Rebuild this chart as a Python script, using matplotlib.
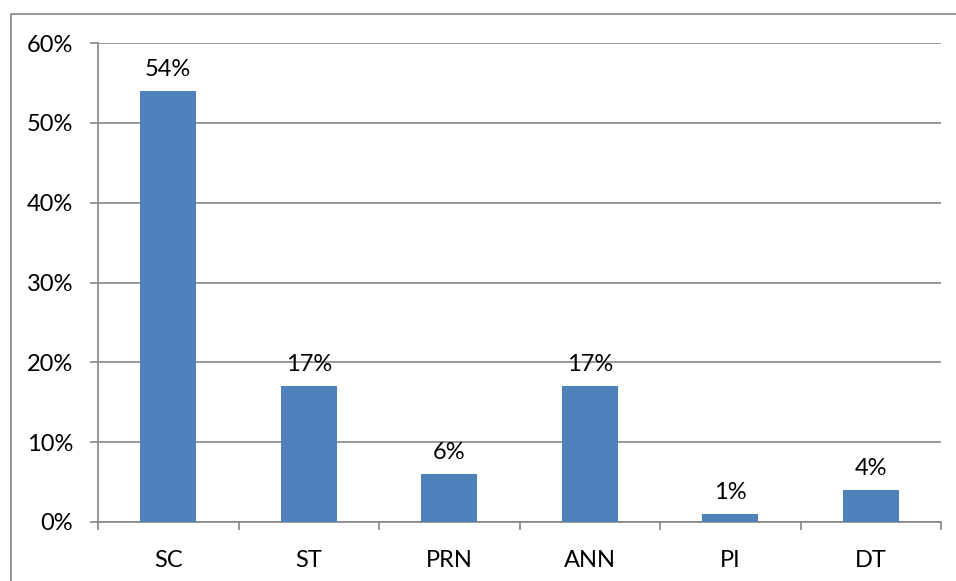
import numpy as np
import matplotlib.pyplot as plt
from matplotlib.patches import Rectangle
from matplotlib.ticker import FixedLocator, FuncFormatter

categories = ["SC", "ST", "PRN", "ANN", "PI", "DT"]
values = [54, 17, 6, 17, 1, 4]
yticks = [0, 10, 20, 30, 40, 50, 60]

plt.rcParams["font.family"] = ["Lato", "DejaVu Sans"]
grey = "#868686"
bar_color = "#4F81BD"

fig = plt.figure(figsize=(9.56, 5.81), dpi=100)
ax = fig.add_axes([98 / 956, 1 - 522 / 581, (941 - 98) / 956, (522 - 43) / 581])

# outer chart frame (right and bottom edges fall outside the image)
fig.patches.append(Rectangle((10.5 / 956, -0.05), 1.2, 1 - 13.5 / 581 + 0.05,
                             transform=fig.transFigure, fill=False,
                             edgecolor=grey, linewidth=1.2))

x = np.arange(len(categories))
ax.bar(x, values, width=0.4, color=bar_color, zorder=3)

for xi, v in zip(x, values):
    ax.annotate(f"{v}%", (xi, v), xytext=(0, 8), textcoords="offset points",
                ha="center", va="bottom", fontsize=17)

ax.set_xlim(-0.5, len(categories) - 0.5)
ax.set_ylim(0, 60)
ax.set_yticks(yticks)
ax.yaxis.set_major_formatter(FuncFormatter(lambda v, p: f"{int(v)}%"))
ax.set_xticks(x)
ax.set_xticklabels(categories)
ax.xaxis.set_minor_locator(FixedLocator(np.arange(len(categories) + 1) - 0.5))

ax.tick_params(axis="x", which="major", length=0, pad=20, labelsize=17)
ax.tick_params(axis="x", which="minor", length=6, color=grey, width=1.2)
ax.tick_params(axis="y", length=6, color=grey, width=1.2, pad=12, labelsize=17)

ax.grid(axis="y", color=grey, linewidth=1.2, zorder=0)
ax.set_axisbelow(True)
for side in ["top", "right"]:
    ax.spines[side].set_visible(False)
for side in ["left", "bottom"]:
    ax.spines[side].set_color(grey)
    ax.spines[side].set_linewidth(1.2)

fig.savefig("out.png", dpi=100)
